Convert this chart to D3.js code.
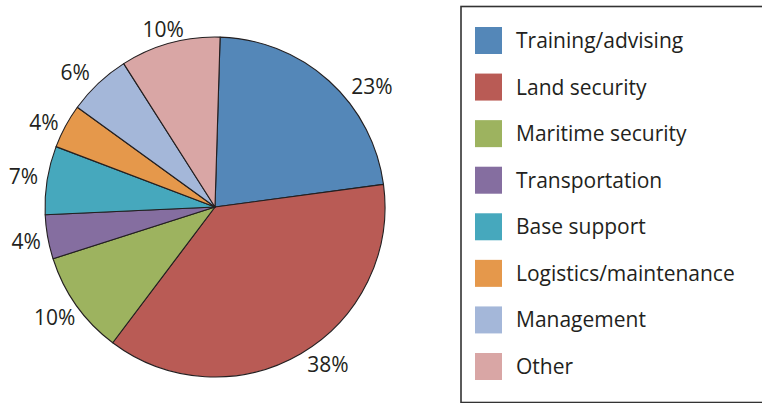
<!DOCTYPE html>
<html>
<head>
<meta charset="utf-8">
<script src="https://cdn.jsdelivr.net/npm/d3@7"></script>
<style>
  body { margin: 0; background: #fff; }
  svg { display: block; }
</style>
</head>
<body>
<div id="chart"></div>
<script>
const categories = ["Training/advising", "Land security", "Maritime security", "Transportation",
                    "Base support", "Logistics/maintenance", "Management", "Other"];
const shares = [22.4, 37.4, 9.8, 4.2, 6.5, 4.2, 6.0, 9.5];
const pctLabels = ["23%", "38%", "10%", "4%", "7%", "4%", "6%", "10%"];
const colors = ["#5487b8", "#b95b55", "#9db35f", "#856ea0", "#46a8bd", "#e5984b", "#a4b7d9", "#d9a6a5"];

const width = 762, height = 403;
const cx = 215, cy = 207, radius = 170;
const textColor = "#231f20";
const font = "'Open Sans', 'Noto Sans', sans-serif";

// label placement: nudge (degrees) from slice mid-angle, and distance from centre
const labelNudge = [10.4, -5.3, 0.7, -0.3, 0.1, -2.0, -2.8, -0.9];
const labelDist = [198, 194, 195, 192, 194, 191, 194, 185];

const svg = d3.select("#chart")
    .append("svg")
    .attr("width", width)
    .attr("height", height);

const data = categories.map((c, i) => ({ name: c, value: shares[i], label: pctLabels[i], color: colors[i] }));

// pie starts a touch past 12 o'clock, like the original
const pie = d3.pie()
    .sort(null)
    .value(d => d.value)
    .startAngle(0.03)
    .endAngle(0.03 + 2 * Math.PI);

const arc = d3.arc().innerRadius(0).outerRadius(radius);

const g = svg.append("g")
    .attr("transform", "translate(" + cx + "," + cy + ")");

const arcs = pie(data);

g.selectAll("path.slice")
    .data(arcs)
    .enter()
    .append("path")
    .attr("class", "slice")
    .attr("d", arc)
    .attr("fill", d => d.data.color)
    .attr("stroke", textColor)
    .attr("stroke-width", 1.1)
    .attr("stroke-linejoin", "round");

const labelPos = (d, i) => {
    const a = (d.startAngle + d.endAngle) / 2 + labelNudge[i] * Math.PI / 180;
    return [labelDist[i] * Math.sin(a), -labelDist[i] * Math.cos(a)];
};

g.selectAll("text.pct")
    .data(arcs)
    .enter()
    .append("text")
    .attr("class", "pct")
    .attr("x", (d, i) => labelPos(d, i)[0])
    .attr("y", (d, i) => labelPos(d, i)[1])
    .attr("dy", "0.36em")
    .attr("text-anchor", "middle")
    .attr("font-family", font)
    .attr("font-size", 21)
    .attr("fill", textColor)
    .text(d => d.data.label);

// Legend
const legendX = 461, legendY = 6.5;
const legend = svg.append("g");

legend.append("rect")
    .attr("x", legendX)
    .attr("y", legendY)
    .attr("width", 320)
    .attr("height", 396)
    .attr("fill", "none")
    .attr("stroke", "#333")
    .attr("stroke-width", 1.6);

const rowScale = d3.scaleLinear()
    .domain([0, categories.length - 1])
    .range([27, 353]);

const rows = legend.selectAll("g.row")
    .data(data)
    .enter()
    .append("g")
    .attr("class", "row")
    .attr("transform", (d, i) => "translate(475," + rowScale(i) + ")");

rows.append("rect")
    .attr("width", 27)
    .attr("height", 27)
    .attr("fill", d => d.color);

rows.append("text")
    .attr("x", 41)
    .attr("y", 13.5)
    .attr("dy", "0.36em")
    .attr("font-family", font)
    .attr("font-size", 21)
    .attr("fill", textColor)
    .text(d => d.name);
</script>
</body>
</html>
